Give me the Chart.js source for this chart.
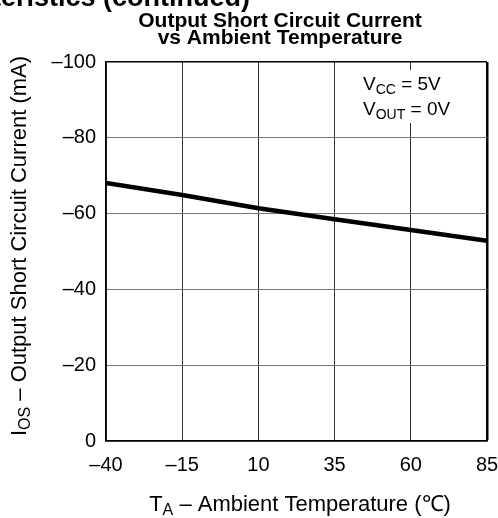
<!DOCTYPE html>
<html>
<head>
<meta charset="utf-8">
<script src="https://cdn.jsdelivr.net/npm/chart.js@4.4.0/dist/chart.umd.min.js"></script>
<style>
  html, body { margin: 0; padding: 0; background: #fff; }
  #wrap { width: 498px; height: 518px; }
</style>
</head>
<body>
<div id="wrap"><canvas id="chart"></canvas></div>
<script>
// values
const temps = [-40, -15, 10, 35, 60, 85];
const iosValues = [-68.1, -64.9, -61.4, -58.5, -55.7, -52.8];
const yTicks = [-100, -80, -60, -40, -20, 0];

const FONT = '"Liberation Sans", Arial, Helvetica, sans-serif';

// draws text with subscript pieces: parts = [[text, isSub], ...]
function drawRich(ctx, parts, x, y, size, align) {
    const subSize = Math.round(size * 0.72);
    let total = 0;
    parts.forEach(([t, sub]) => {
        ctx.font = (sub ? subSize : size) + 'px ' + FONT;
        total += ctx.measureText(t).width;
    });
    let cx = align === 'center' ? x - total / 2 : align === 'right' ? x - total : x;
    ctx.textAlign = 'left';
    ctx.textBaseline = 'alphabetic';
    parts.forEach(([t, sub]) => {
        ctx.font = (sub ? subSize : size) + 'px ' + FONT;
        ctx.fillText(t, cx, sub ? y + size * 0.2 : y);
        cx += ctx.measureText(t).width;
    });
}

const fmtTick = (v) => (v < 0 ? '–' + Math.abs(v) : String(v));

const textPlugin = {
    id: 'texts',
    afterDraw(chart) {
        const ctx = chart.ctx;
        ctx.save();
        ctx.fillStyle = '#000';

        // page header cut off at the top
        ctx.font = 'bold 27px ' + FONT;
        ctx.textAlign = 'right';
        ctx.textBaseline = 'alphabetic';
        ctx.fillText('Typical Characteristics (continued)', 250, 6);

        // chart title
        ctx.font = 'bold 21px ' + FONT;
        ctx.textAlign = 'center';
        ctx.fillText('Output Short Circuit Current', 280, 27);
        ctx.fillText('vs Ambient Temperature', 280, 44);

        // conditions box
        ctx.fillStyle = '#fff';
        ctx.fillRect(354, 70, 108, 53);
        ctx.fillStyle = '#000';
        drawRich(ctx, [['V', false], ['CC', true], [' = 5V', false]], 363, 90, 19, 'left');
        drawRich(ctx, [['V', false], ['OUT', true], [' = 0V', false]], 363, 115, 19, 'left');

        // x axis title
        drawRich(ctx, [['T', false], ['A', true], [' – Ambient Temperature (℃)', false]],
            300, 511, 22, 'center');

        // y axis title
        ctx.translate(26, 246);
        ctx.rotate(-Math.PI / 2);
        drawRich(ctx, [['I', false], ['OS', true], [' – Output Short Circuit Current (mA)', false]],
            0, 0, 22, 'center');
        ctx.restore();
    }
};

new Chart(document.getElementById('chart'), {
    type: 'line',
    data: {
        datasets: [{
            data: temps.map((t, i) => ({ x: t, y: iosValues[i] })),
            borderColor: '#000',
            borderWidth: 4.5,
            pointRadius: 0,
            tension: 0,
            fill: false,
        }],
    },
    options: {
        responsive: true,
        maintainAspectRatio: false,
        animation: false,
        devicePixelRatio: 1,
        layout: { padding: { top: 62, right: 11, left: 0, bottom: 0 } },
        plugins: {
            legend: { display: false },
            tooltip: { enabled: false },
        },
        scales: {
            x: {
                type: 'linear',
                min: -40,
                max: 85,
                afterBuildTicks: (scale) => { scale.ticks = temps.map((v) => ({ value: v })); },
                afterFit: (scale) => {
                    scale.height = 77;
                    scale.paddingLeft = 0;
                    scale.paddingRight = 0;
                },
                border: { color: '#000', width: 1.5 },
                grid: {
                    drawTicks: false,
                    color: (c) => (c.index === temps.length - 1 ? '#000' : '#333'),
                    lineWidth: (c) => (c.index === temps.length - 1 ? 2.5 : 1),
                },
                ticks: {
                    color: '#000',
                    padding: 12,
                    maxRotation: 0,
                    autoSkip: false,
                    font: { family: FONT, size: 20 },
                    callback: fmtTick,
                },
            },
            y: {
                min: -100,
                max: 0,
                reverse: true,
                afterBuildTicks: (scale) => { scale.ticks = yTicks.map((v) => ({ value: v })); },
                afterFit: (scale) => {
                    scale.width = 106;
                    scale.paddingTop = 0;
                    scale.paddingBottom = 0;
                },
                border: { color: '#000', width: 1.5 },
                grid: {
                    drawTicks: false,
                    color: (c) => (c.tick && c.tick.value === -100 ? '#000' : '#777'),
                    lineWidth: (c) => (c.tick && c.tick.value === -100 ? 1.5 : 1),
                },
                ticks: {
                    color: '#000',
                    padding: 10,
                    autoSkip: false,
                    font: { family: FONT, size: 20 },
                    callback: fmtTick,
                },
            },
        },
    },
    plugins: [textPlugin],
});
</script>
</body>
</html>
